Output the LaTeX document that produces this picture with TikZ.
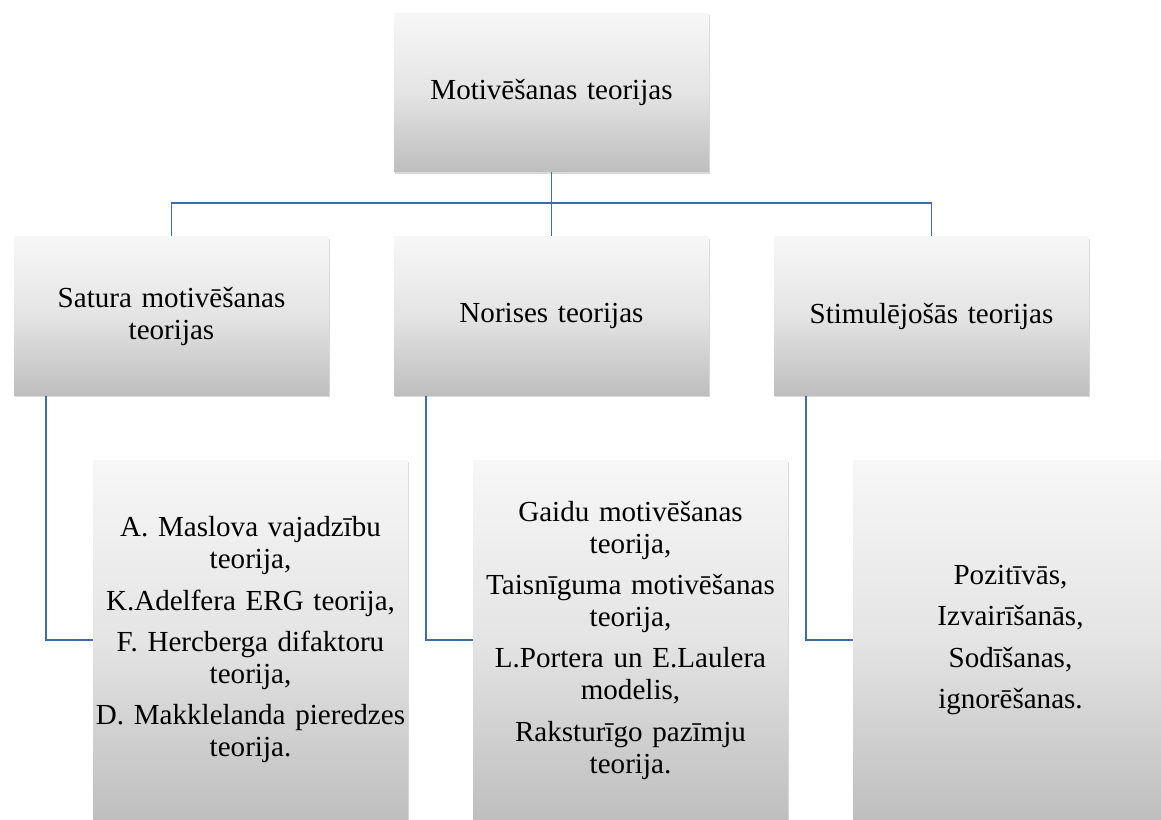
\documentclass[tikz,border=0pt]{standalone}
\usepackage{fontspec}
\setmainfont{Liberation Serif}
\usetikzlibrary{shadows}

\definecolor{linkblue}{RGB}{66,108,165}
\definecolor{boxtop}{RGB}{247,247,247}
\definecolor{boxmid}{RGB}{228,228,228}
\definecolor{boxbottom}{RGB}{190,190,190}

\begin{document}
\begin{tikzpicture}[x=0.75pt, y=-0.75pt,
    tbox/.style={rectangle, minimum width=236.25pt, minimum height=119pt,
        inner sep=1pt, text width=234pt, align=center,
        top color=boxtop, bottom color=boxbottom, middle color=boxmid,
        drop shadow={shadow xshift=0.8pt, shadow yshift=-1.5pt, opacity=0.3},
        font=\fontsize{21.8}{24}\selectfont},
    listbox/.style={tbox, minimum height=270pt},
    link/.style={draw=linkblue, line width=1.4pt}]

\clip (0,0) rectangle (1161,820);

% Macro: one group box with its list box below
\newcommand{\theorygroup}[4]{
\begin{scope}[shift={(#2,0)}]

    % Group box
    \node[tbox] (#1) at (0,316) {#3};

    % List box
    \node[listbox] (#1list) at (79,640) {#4};

    % Link
    \draw[link] ([xshift=24pt]#1.south west) |- (#1list.west);

\end{scope}
}

% Top box
\node[tbox] (mot) at (551.5,92.5) {Motivēšanas teorijas};

% Three groups
\theorygroup{sat}{171.5}{Satura motivēšanas\\teorijas}{A. Maslova vajadzību\\teorija,\\[7pt]K.Adelfera ERG teorija,\\[7pt]F. Hercberga difaktoru\\teorija,\\[7pt]D. Makklelanda pieredzes\\teorija.}
\theorygroup{nor}{551.5}{Norises teorijas}{Gaidu motivēšanas\\teorija,\\[7pt]Taisnīguma motivēšanas\\teorija,\\[7pt]L.Portera un E.Laulera\\modelis,\\[7pt]Raksturīgo pazīmju\\teorija.}
\theorygroup{stim}{931.5}{Stimulējošās teorijas}{Pozitīvās,\\[7pt]Izvairīšanās,\\[7pt]Sodīšanas,\\[7pt]ignorēšanas.}

% Tree links
\coordinate (branch) at (551.5,203);
\draw[link] (sat.north) |- (branch) -| (stim.north);
\draw[link] (mot.south) -- (nor.north);

\end{tikzpicture}
\end{document}
